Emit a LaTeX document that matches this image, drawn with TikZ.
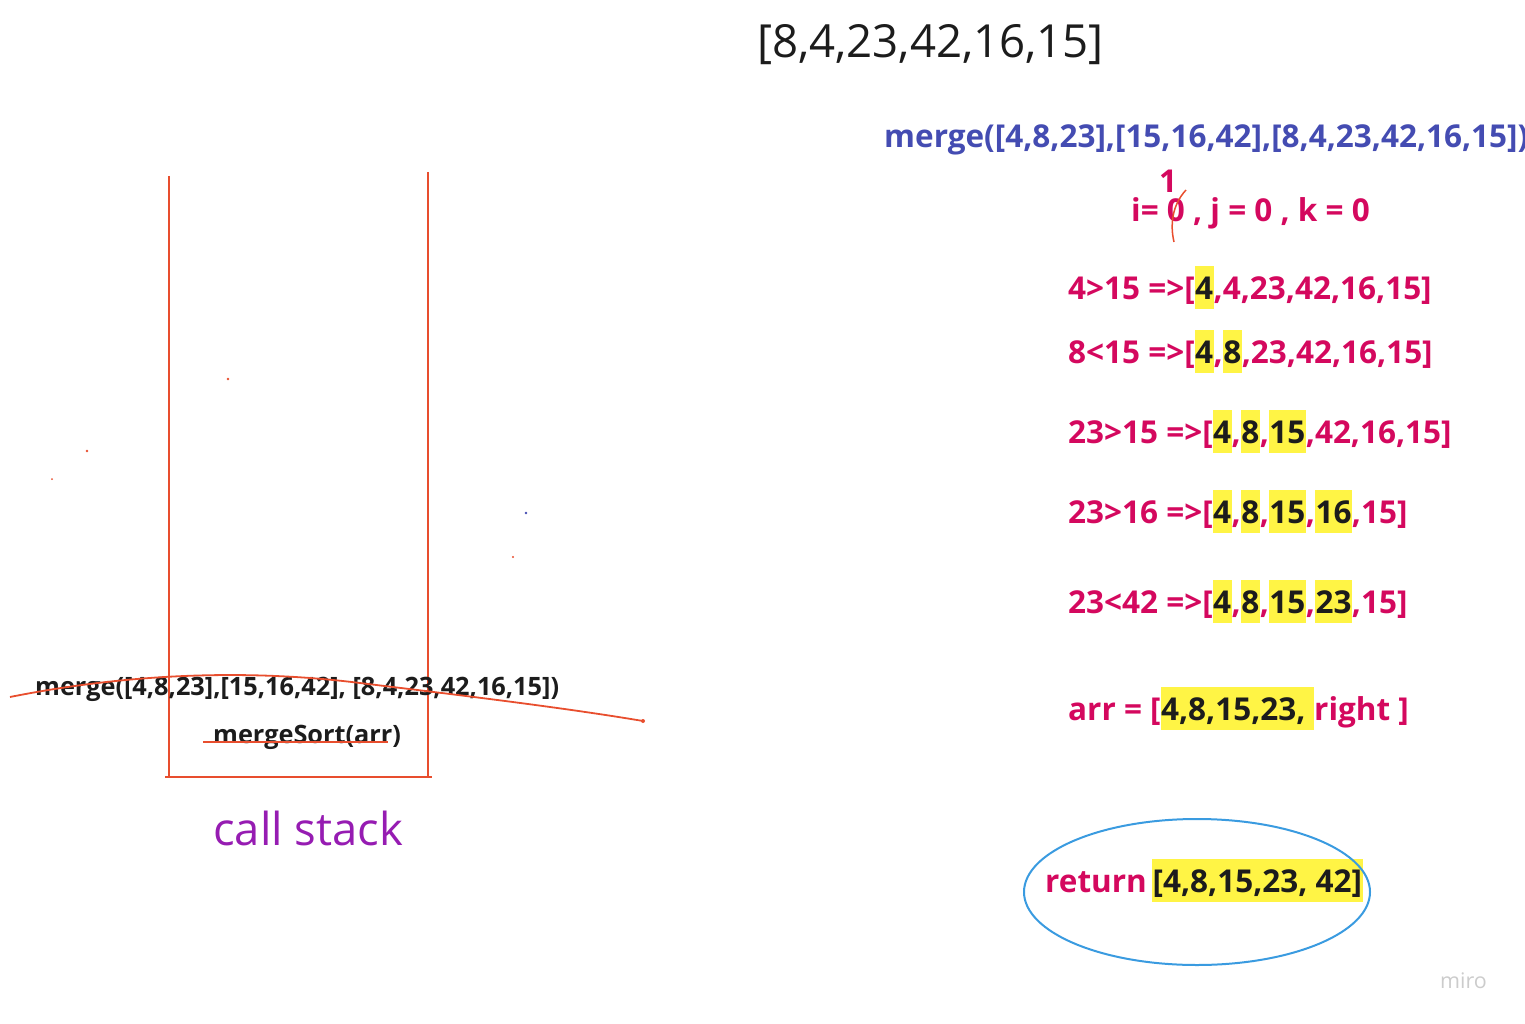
\documentclass[tikz,border=0pt]{standalone}
\usepackage{fontspec}
\setmainfont{Open Sans}
\definecolor{crim}{RGB}{212,8,94}
\definecolor{mblue}{RGB}{68,76,178}
\definecolor{hly}{RGB}{255,244,69}
\definecolor{ink}{RGB}{28,28,28}
\definecolor{pen}{RGB}{232,78,46}
\definecolor{purp}{RGB}{150,28,178}
\definecolor{ellb}{RGB}{58,155,224}
\newcommand\hl[1]{{\setlength\fboxsep{0pt}\colorbox{hly}{\rule[-10pt]{0pt}{43pt}\kern0.5pt\textcolor{ink}{#1}\kern0.5pt}}}
\begin{document}
\begin{tikzpicture}[x=1pt,y=-1pt,
  lbl/.style={inner sep=0pt,anchor=base west},
  step30/.style={lbl,font=\fontsize{31.5}{37}\selectfont\bfseries,text=crim},
  penline/.style={draw=pen,line width=2pt},
]
\useasboundingbox (0,0) rectangle (1525,1024);
% top array
\node[inner sep=0pt,anchor=base west,font=\fontsize{45.6}{54}\selectfont,text=ink] (top) at (757,58) {[8,4,23,42,16,15]};
% blue merge (cut off at the right edge, as in the reference)
\node[lbl,font=\fontsize{31.5}{37}\selectfont\bfseries,text=mblue] (bm) at (884,148) {merge([4,8,23],[15,16,42],[8,4,23,42,16,15])};
% i j k
\node[step30] (ijk) at (1131,222) {i= 0 , j = 0 , k = 0};
\node[step30] (one) at (1159,193) {1};
\draw[pen,line width=1.5pt] (1186,190) .. controls (1172,205) and (1170,225) .. (1174,242);
% steps
\node[step30] (s1) at (1068,299) {4>15 =>[\hl{4},4,23,42,16,15]};
\node[step30] (s2) at (1068,363) {8<15 =>[\hl{4},\hl{8},23,42,16,15]};
\node[step30] (s3) at (1068,443) {23>15 =>[\hl{4},\hl{8},\hl{15},42,16,15]};
\node[step30] (s4) at (1068,523) {23>16 =>[\hl{4},\hl{8},\hl{15},\hl{16},15]};
\node[step30] (s5) at (1068,613) {23<42 =>[\hl{4},\hl{8},\hl{15},\hl{23},15]};
\node[step30] (arr) at (1068,720) {arr = [\hl{4,8,15,23,\ }right ]};
\node[step30] (ret) at (1045,892) {return\,\hl{[4,8,15,23, 42]}};
\draw[ellb,line width=2pt] (1197,892) ellipse [x radius=173,y radius=73];
\node[lbl,font=\fontsize{21.5}{26}\selectfont,text=black!20] (miro) at (1440,988) {miro};
% call stack
\draw[penline] (169,176) -- (169,777);
\draw[penline] (428,172) -- (428,777);
\draw[penline] (165,777) -- (432,777);
\node[lbl,font=\fontsize{25.3}{30}\selectfont\bfseries,text=ink] (lm) at (35,695) {merge([4,8,23],[15,16,42], [8,4,23,42,16,15])};
\node[lbl,font=\fontsize{25.3}{30}\selectfont\bfseries,text=ink] (ms) at (213,743) {mergeSort(arr)};
\draw[pen,line width=1.8pt] (10,697) .. controls (120,675) and (240,668) .. (360,683) .. controls (450,694) and (560,707) .. (643,721);
\fill[pen] (643,721) circle (2);
\draw[pen,line width=1.8pt] (203,742) -- (388,742);
\node[lbl,font=\fontsize{45.4}{54}\selectfont,text=purp] (cs) at (213,845) {call stack};
% stray dots
\fill[pen] (228,379) circle (1.3);
\fill[pen] (87,451) circle (1.3);
\fill[pen] (52,479) circle (1);
\fill[mblue] (526,513) circle (1.3);
\fill[pen] (513,557) circle (1.2);
\end{tikzpicture}
\end{document}
